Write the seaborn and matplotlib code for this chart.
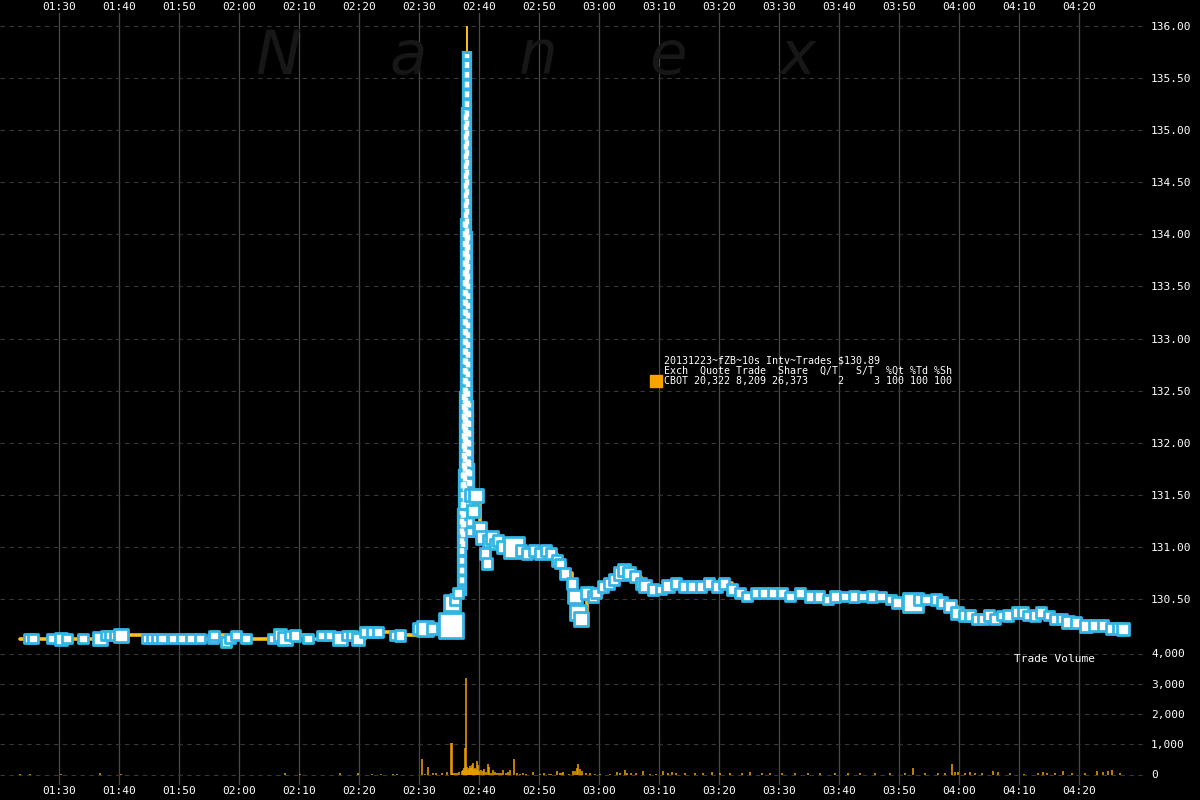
import matplotlib
matplotlib.use("Agg")
import matplotlib.pyplot as plt
import pandas as pd
import seaborn as sns

# trades per 10s interval (last price, contracts)
tr_time = [
    "01:25:00", "01:25:40", "01:28:50", "01:30:20", "01:31:20", "01:34:00", "01:36:50", "01:37:50",
    "01:38:30", "01:39:20", "01:40:20", "01:44:40", "01:45:30", "01:46:20", "01:47:10", "01:49:00",
    "01:50:30", "01:52:00", "01:53:30", "01:55:40", "01:55:50", "01:57:50", "01:58:30", "01:59:30",
    "02:01:10", "02:05:40", "02:06:50", "02:07:40", "02:08:30", "02:09:20", "02:11:30", "02:13:50",
    "02:15:10", "02:16:50", "02:18:00", "02:18:50", "02:19:50", "02:21:00", "02:22:10", "02:23:10",
    "02:26:00", "02:26:50", "02:29:50", "02:31:00", "02:32:10", "02:35:20", "02:35:30", "02:36:00",
    "02:36:30",
    "02:38:40", "02:39:00", "02:39:30", "02:40:10", "02:40:30", "02:41:00", "02:41:20", "02:41:40",
    "02:42:10", "02:42:40", "02:43:10", "02:44:00", "02:45:50", "02:47:00", "02:48:00", "02:49:10",
    "02:50:10", "02:51:10", "02:52:00", "02:53:00", "02:53:30", "02:54:20", "02:55:30", "02:56:00",
    "02:56:30", "02:57:00", "02:58:00", "02:59:00", "02:59:30", "03:00:40", "03:01:40", "03:02:30",
    "03:03:40", "03:04:10", "03:05:00", "03:06:00", "03:07:00", "03:07:40", "03:09:00", "03:10:20",
    "03:11:30", "03:12:50", "03:14:10", "03:15:30", "03:17:00", "03:18:20", "03:19:40", "03:20:50",
    "03:22:10", "03:23:30", "03:24:40", "03:26:10", "03:27:30", "03:29:00", "03:30:30", "03:31:50",
    "03:33:30", "03:35:10", "03:36:40", "03:38:10", "03:39:20", "03:41:00", "03:42:30", "03:44:00",
    "03:45:30", "03:47:00", "03:48:40", "03:49:40", "03:52:20", "03:53:20", "03:54:30", "03:56:10",
    "03:57:10", "03:58:30", "03:59:40", "04:00:50", "04:01:50", "04:03:00", "04:04:00", "04:05:00",
    "04:06:00", "04:07:10", "04:08:10", "04:09:40", "04:10:40", "04:11:30", "04:12:40", "04:13:40",
    "04:15:00", "04:16:00", "04:17:10", "04:18:10", "04:19:30", "04:21:10", "04:22:30", "04:24:00",
    "04:25:20", "04:26:30", "04:27:20",
]
tr_price = [
    130.125, 130.125, 130.125, 130.125, 130.125, 130.125, 130.125, 130.156,
    130.156, 130.156, 130.156, 130.125, 130.125, 130.125, 130.125, 130.125,
    130.125, 130.125, 130.125, 130.125, 130.156, 130.094, 130.125, 130.156,
    130.125, 130.125, 130.156, 130.125, 130.156, 130.156, 130.125, 130.156,
    130.156, 130.125, 130.156, 130.156, 130.125, 130.188, 130.188, 130.188,
    130.156, 130.156, 130.219, 130.219, 130.219, 130.250, 130.469, 130.500,
    130.563,
    131.500, 131.344, 131.500, 131.188, 131.094, 130.938, 130.844, 131.063,
    131.094, 131.031, 131.063, 131.000, 131.000, 130.969, 130.938, 130.969,
    130.938, 130.969, 130.938, 130.875, 130.844, 130.750, 130.656, 130.531,
    130.375, 130.313, 130.563, 130.531, 130.563, 130.625, 130.656, 130.688,
    130.750, 130.781, 130.750, 130.719, 130.656, 130.625, 130.594, 130.594,
    130.625, 130.656, 130.625, 130.625, 130.625, 130.656, 130.625, 130.656,
    130.594, 130.563, 130.531, 130.563, 130.563, 130.563, 130.563, 130.531,
    130.563, 130.531, 130.531, 130.500, 130.531, 130.531, 130.531, 130.531,
    130.531, 130.531, 130.500, 130.469, 130.469, 130.500, 130.500, 130.500,
    130.469, 130.438, 130.375, 130.344, 130.344, 130.313, 130.313, 130.344,
    130.313, 130.344, 130.344, 130.375, 130.375, 130.344, 130.344, 130.375,
    130.344, 130.313, 130.313, 130.281, 130.281, 130.250, 130.250, 130.250,
    130.219, 130.219, 130.219,
]
tr_vol = [
    100, 100, 100, 200, 100, 100, 250, 100,
    100, 100, 250, 100, 100, 100, 100, 100,
    100, 100, 100, 100, 100, 100, 100, 100,
    100, 100, 200, 250, 100, 150, 100, 100,
    100, 250, 100, 100, 200, 100, 100, 100,
    100, 150, 150, 350, 150, 1000, 400, 150,
    150,
    200, 200, 250, 200, 200, 150, 150, 200,
    200, 150, 150, 200, 700, 150, 150, 150,
    150, 150, 150, 150, 100, 150, 150, 250,
    350, 250, 200, 150, 150, 150, 150, 150,
    250, 200, 200, 150, 150, 200, 150, 100,
    200, 150, 150, 150, 150, 150, 150, 150,
    150, 150, 100, 150, 150, 100, 150, 100,
    100, 150, 150, 100, 150, 100, 150, 100,
    150, 100, 100, 150, 600, 150, 100, 150,
    150, 200, 200, 150, 150, 150, 150, 150,
    150, 100, 150, 150, 150, 100, 150, 150,
    100, 150, 150, 200, 150, 200, 150, 150,
    150, 150, 200,
]

# the spike: price range traded inside each 10s interval
spike_time = ["02:37:10", "02:37:20", "02:37:30", "02:37:40", "02:37:50",
              "02:38:00", "02:38:10", "02:38:20", "02:38:30"]
spike_low = [130.53, 130.97, 131.16, 131.41, 131.97, 133.50, 131.66, 131.28, 131.09]
spike_high = [131.38, 131.75, 132.50, 134.16, 135.22, 135.76, 134.03, 132.41, 131.81]
spike_last = [131.19, 131.50, 132.25, 133.94, 135.00, 135.50, 132.00, 131.56, 131.38]
peak_time, peak_price = "02:38:00", 136.00
open_time, close_time = "01:23:30", "04:27:50"

# trade volume bars
vol_time = [
    "01:23:30", "01:25:10", "01:30:20", "01:36:50", "01:40:20", "02:07:40", "02:10:10", "02:16:50",
    "02:19:50", "02:22:10", "02:23:40", "02:25:40", "02:26:20", "02:30:30", "02:31:00", "02:31:30",
    "02:32:20", "02:32:50", "02:33:50", "02:34:40", "02:35:20", "02:35:30", "02:35:40", "02:36:00",
    "02:36:20", "02:36:40", "02:37:10", "02:37:20", "02:37:30", "02:37:40", "02:37:50", "02:38:00",
    "02:38:10", "02:38:20", "02:38:30", "02:38:40", "02:38:50", "02:39:00", "02:39:10", "02:39:20",
    "02:39:30", "02:39:40", "02:39:50", "02:40:00", "02:40:20", "02:40:40", "02:40:50", "02:41:10",
    "02:41:30", "02:41:40", "02:42:00", "02:42:20", "02:42:40", "02:43:00", "02:43:20", "02:43:40",
    "02:44:00", "02:44:30", "02:44:50", "02:45:10", "02:45:50", "02:46:20", "02:46:50", "02:47:20",
    "02:47:50", "02:49:00", "02:50:10", "02:50:50", "02:51:40", "02:52:00", "02:53:00", "02:53:30",
    "02:53:50", "02:54:00", "02:55:00", "02:55:40", "02:56:00", "02:56:20", "02:56:30", "02:56:50",
    "02:57:10", "02:57:50", "02:58:30", "02:59:20", "03:00:10", "03:01:50", "03:03:00", "03:03:30",
    "03:04:20", "03:04:40", "03:05:20", "03:06:10", "03:07:20", "03:08:30", "03:09:30", "03:10:40",
    "03:11:30", "03:12:10", "03:12:50", "03:14:20", "03:16:00", "03:17:20", "03:18:50", "03:20:10",
    "03:21:50", "03:23:50", "03:25:10", "03:27:10", "03:28:30", "03:30:30", "03:32:40", "03:34:50",
    "03:36:50", "03:39:20", "03:41:30", "03:43:30", "03:46:00", "03:48:30", "03:51:00", "03:52:20",
    "03:54:20", "03:56:30", "03:57:40", "03:58:50", "03:59:20", "03:59:50", "04:01:00", "04:01:50",
    "04:02:40", "04:03:50", "04:05:40", "04:06:30", "04:08:30", "04:10:50", "04:13:10", "04:14:00",
    "04:14:40", "04:16:00", "04:17:20", "04:18:50", "04:21:00", "04:23:00", "04:24:00", "04:24:50",
    "04:25:30", "04:26:50",
]
vol_value = [
    30, 20, 30, 40, 30, 50, 30, 40,
    40, 30, 20, 20, 20, 527, 20, 247,
    43, 43, 43, 86, 1030, 1030, 65, 65,
    65, 86, 120, 150, 200, 890, 3180, 250,
    150, 200, 280, 220, 300, 365, 180, 230,
    150, 430, 300, 120, 150, 100, 170, 80,
    333, 250, 60, 140, 86, 40, 65, 40,
    140, 40, 86, 140, 527, 40, 30, 50,
    30, 86, 30, 40, 30, 30, 108, 65,
    40, 86, 30, 100, 130, 215, 333, 170,
    110, 65, 50, 20, 20, 30, 86, 40,
    140, 60, 40, 40, 108, 30, 20, 108,
    40, 80, 40, 60, 40, 50, 90, 40,
    60, 40, 70, 40, 50, 40, 60, 40,
    50, 40, 60, 40, 50, 40, 60, 200,
    40, 50, 60, 360, 76, 76, 60, 80,
    50, 60, 130, 80, 60, 30, 50, 90,
    60, 60, 130, 40, 50, 130, 80, 100,
    163, 40,
]

price_ticks = [130.5, 131.0, 131.5, 132.0, 132.5, 133.0, 133.5, 134.0, 134.5, 135.0, 135.5, 136.0]
vol_ticks = [0, 1000, 2000, 3000, 4000]
time_ticks = ["01:30", "01:40", "01:50", "02:00", "02:10", "02:20", "02:30", "02:40", "02:50",
              "03:00", "03:10", "03:20", "03:30", "03:40", "03:50", "04:00", "04:10", "04:20"]

title_line = "20131223~fZB~10s Intv~Trades $130.89"
legend_head = "Exch  Quote Trade  Share  Q/T   S/T  %Qt %Td %Sh"
legend_row = "CBOT 20,322 8,209 26,373     2     3 100 100 100"


def to_min(s):
    # minutes relative to 01:30
    parts = [int(p) for p in s.split(":")]
    if len(parts) == 2:
        parts.append(0)
    h, m, sec = parts
    return h * 60 + m + sec / 60 - 90


CYAN = "#33b5e5"
ORANGE = "#ffc21a"
VOLC = "#f5a300"

sns.set_style("dark", {"axes.facecolor": "black", "figure.facecolor": "black"})
plt.rcParams["font.family"] = ["DejaVu Sans Mono"]

trades = pd.DataFrame({"t": [to_min(s) for s in tr_time], "price": tr_price, "vol": tr_vol})
spike = pd.DataFrame({"t": [to_min(s) for s in spike_time], "lo": spike_low,
                      "hi": spike_high, "price": spike_last})
line_df = pd.concat([
    pd.DataFrame({"t": [to_min(open_time)], "price": [tr_price[0]]}),
    trades[["t", "price"]], spike[["t", "price"]],
    pd.DataFrame({"t": [to_min(close_time)], "price": [tr_price[-1]]}),
]).sort_values("t")

fig = plt.figure(figsize=(12, 8), dpi=100, facecolor="black")
ax = fig.add_axes([0, 15 / 800, 1146 / 1200, 772 / 800])
axv = fig.add_axes([0, 15 / 800, 1146 / 1200, 145 / 800])

xmin, xmax = -59 / 6, 1087 / 6

# price panel
ax.set_facecolor("black")
ax.set_axisbelow(True)
ax.grid(axis="x", color="#4a4a4a", ls="-", lw=0.9)
ax.grid(axis="y", color="#383838", ls=(0, (4, 4)), lw=0.8)

sns.lineplot(data=line_df, x="t", y="price", drawstyle="steps-post", estimator=None,
             color=ORANGE, lw=2.6, ax=ax, zorder=2)
ax.vlines(to_min(peak_time), max(spike_high), peak_price, color=ORANGE, lw=1.4, zorder=2)
ax.vlines(spike["t"], spike["lo"], spike["hi"], color=CYAN, lw=7.4, zorder=3)
ax.vlines(spike["t"], spike["lo"] + 0.03, spike["hi"] - 0.03, color="white", lw=3.2,
          linestyles=[(0, (1.3, 0.9))], zorder=3)
sns.scatterplot(data=trades, x="t", y="price", size="vol", sizes=(45, 320), size_norm=(100, 1000),
                marker="s", color="white", edgecolor=CYAN, linewidth=2.0, legend=False,
                ax=ax, zorder=4)

ax.set_xlim(xmin, xmax)
ax.set_ylim(130.5 - 185.5 / 104.36, 136.0 + 12.5 / 104.36)
ax.set_xticks([to_min(t) for t in time_ticks])
ax.set_xticklabels(time_ticks)
ax.set_yticks(price_ticks)
ax.set_yticklabels([f"{p:.2f}" for p in price_ticks])
ax.yaxis.tick_right()
ax.tick_params(axis="y", length=0, pad=3.6, colors="white", labelsize=8)
ax.tick_params(axis="x", length=0, colors="white", labelsize=8, pad=0.6,
               labeltop=True, labelbottom=True)
ax.set_xlabel("")
ax.set_ylabel("")
for sp in ax.spines.values():
    sp.set_visible(False)

# volume panel
axv.set_facecolor("none")
axv.vlines([to_min(s) for s in vol_time], 0, vol_value, color=VOLC, lw=1.1)
axv.set_xlim(xmin, xmax)
axv.set_ylim(-(785 - 774.5) / 30.25 * 1000, (774.5 - 640) / 30.25 * 1000)
axv.set_yticks(vol_ticks)
axv.set_yticklabels([f"{v:,}" for v in vol_ticks])
axv.yaxis.tick_right()
axv.set_xticks([])
axv.grid(axis="y", color="#383838", ls=(0, (4, 4)), lw=0.8)
axv.grid(axis="x", visible=False)
axv.tick_params(axis="y", length=0, pad=3.6, colors="white", labelsize=8)
for sp in axv.spines.values():
    sp.set_visible(False)

# watermark
for i, ch in enumerate("Nanex"):
    fig.text((278 + 130 * i) / 1200, 1 - 74 / 800, ch, color="#171717", fontsize=44,
             style="italic", ha="center", va="baseline", family=["DejaVu Sans"], zorder=0)

# legend block
for j, line in enumerate([title_line, legend_head, legend_row]):
    fig.text(664 / 1200, 1 - (361 + 10 * j) / 800, line, color="white", fontsize=7.2,
             ha="left", va="center")
fig.patches.append(plt.Rectangle((650 / 1200, 1 - 387 / 800), 12 / 1200, 12 / 800,
                                 transform=fig.transFigure, color="#f7a400"))
fig.text(1054 / 1200, 1 - 659 / 800, "Trade Volume", color="white", fontsize=8,
         ha="center", va="center")

fig.savefig("out.png", dpi=100, facecolor="black")
